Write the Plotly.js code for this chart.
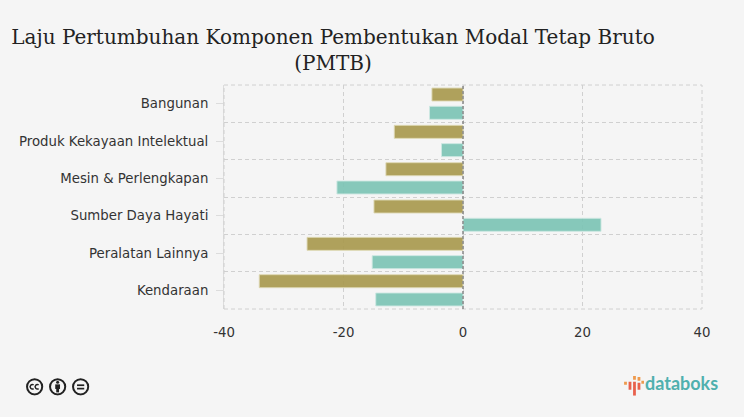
<!DOCTYPE html>
<html>
<head>
<meta charset="utf-8">
<script src="https://cdn.plot.ly/plotly-3.0.1.min.js"></script>
<style>
  html, body { margin: 0; padding: 0; background: #f5f5f5; }
</style>
</head>
<body>
<div id="chart" style="width:744px;height:417px"></div>
<script>
const categories = ["Bangunan", "Produk Kekayaan Intelektual", "Mesin & Perlengkapan", "Sumber Daya Hayati", "Peralatan Lainnya", "Kendaraan"];
const goldValues = [-5.2, -11.5, -12.9, -14.9, -26.1, -34.1];
const tealValues = [-5.6, -3.6, -21.1, 23.1, -15.2, -14.6];
const xTicks = [-40, -20, 0, 20, 40];

const ccIcons = `<svg xmlns="http://www.w3.org/2000/svg" width="64" height="18" viewBox="0 0 64 18">
<g fill="none" stroke="#222" stroke-width="2"><circle cx="9" cy="9" r="7.6"/><circle cx="32" cy="9" r="7.6"/><circle cx="55" cy="9" r="7.6"/></g>
<g fill="none" stroke="#222" stroke-width="1.5"><path d="M8 7.2a2.2 2.2 0 1 0 0 3.6"/><path d="M13 7.2a2.2 2.2 0 1 0 0 3.6"/></g>
<g fill="#222"><circle cx="32" cy="4.6" r="1.5"/><rect x="29.6" y="6.6" width="4.8" height="4.6"/><rect x="30.6" y="10" width="2.8" height="4.6"/>
<rect x="51.4" y="6.6" width="7.2" height="1.7"/><rect x="51.4" y="10" width="7.2" height="1.7"/></g></svg>`;

const logoMark = `<svg xmlns="http://www.w3.org/2000/svg" width="20" height="20" viewBox="0 0 20 20">
<g stroke-width="2.8"><path d="M1.5 6v3" stroke="#ee9a4d"/><path d="M6 6v8" stroke="#e8604c"/><path d="M10.5 0v4" stroke="#ee9a4d"/><path d="M10.5 6v14" stroke="#e8604c"/><path d="M15 1v4" stroke="#ee9a4d"/><path d="M15 7v7" stroke="#e8604c"/><path d="M18.8 5v3" stroke="#ee9a4d"/></g></svg>`;

const svgUri = (svg) => "data:image/svg+xml;charset=utf-8," + encodeURIComponent(svg);

let trace_gold = {
  name: "Seri 1",
  type: "bar",
  orientation: "h",
  y: categories,
  x: goldValues,
  marker: { color: "rgba(168,153,78,0.92)", line: { color: "rgba(222,216,180,0.9)", width: 1 } },
  hoverinfo: "x+y",
};
let trace_teal = {
  name: "Seri 2",
  type: "bar",
  orientation: "h",
  y: categories,
  x: tealValues,
  marker: { color: "rgba(124,195,180,0.92)", line: { color: "rgba(205,232,226,0.9)", width: 1 } },
  hoverinfo: "x+y",
};
// empty trace, keeps the second axis alive so its gridlines sit between categories
let trace_bands = {
  type: "bar",
  orientation: "h",
  y: categories,
  x: categories.map(() => null),
  yaxis: "y2",
  showlegend: false,
  hoverinfo: "skip",
};

let layout = {
  width: 744,
  height: 417,
  paper_bgcolor: "#f5f5f5",
  plot_bgcolor: "#f5f5f5",
  showlegend: false,
  barmode: "group",
  bargap: 0.02,
  bargroupgap: 0.29,
  margin: { l: 224, r: 42, t: 85, b: 108, pad: 0 },
  font: { family: "DejaVu Sans, sans-serif", size: 13, color: "#333" },
  title: {
    text: "Laju Pertumbuhan Komponen Pembentukan Modal Tetap Bruto<br>(PMTB)",
    font: { family: "DejaVu Serif, serif", size: 20, color: "#222" },
    x: 333 / 744,
    xanchor: "center",
    y: 0.895,
    yanchor: "top",
  },
  xaxis: {
    range: [-40, 40],
    tickvals: xTicks,
    ticktext: xTicks.map(String),
    showgrid: true,
    gridcolor: "#d0d0d0",
    griddash: "4px,3px",
    gridwidth: 1,
    zeroline: false,
    ticks: "",
    ticklen: 0,
    ticklabelstandoff: 14,
    tickfont: { size: 13.3, color: "#333" },
    showline: false,
  },
  yaxis: {
    type: "category",
    categoryorder: "array",
    categoryarray: categories,
    range: [5.5, -0.5],
    showgrid: false,
    ticks: "outside",
    ticklen: 7,
    tickcolor: "#dcdcdc",
    tickwidth: 1,
    ticklabelstandoff: 5,
    showline: true,
    linecolor: "#dcdcdc",
    linewidth: 1,
    tickfont: { size: 13.3, color: "#333" },
    zeroline: false,
  },
  yaxis2: {
    type: "category",
    categoryorder: "array",
    categoryarray: categories,
    overlaying: "y",
    range: [5.5, -0.5],
    tickson: "boundaries",
    showgrid: true,
    gridcolor: "#d0d0d0",
    griddash: "4px,3px",
    gridwidth: 1,
    ticks: "",
    showticklabels: false,
    zeroline: false,
  },
  shapes: [
    // plot frame: plotly leaves out gridlines that fall on the edges
    { type: "rect", xref: "paper", yref: "paper", x0: 0, x1: 1, y0: 0, y1: 1, line: { color: "#d0d0d0", width: 1, dash: "4px,3px" } },
    { type: "line", xref: "x", yref: "paper", x0: 0, x1: 0, y0: 0, y1: 1, line: { color: "#888888", width: 1.5, dash: "3px,2px" } },
  ],
  images: [
    { source: svgUri(ccIcons), xref: "paper", yref: "paper", x: -0.4152, y: -0.307, sizex: 0.1343, sizey: 0.0804, xanchor: "left", yanchor: "top", sizing: "contain", layer: "above" },
    { source: svgUri(logoMark), xref: "paper", yref: "paper", x: 0.8368, y: -0.2985, sizex: 0.0418, sizey: 0.0893, xanchor: "left", yanchor: "top", sizing: "contain", layer: "above" },
  ],
  annotations: [
    { text: "databoks", xref: "paper", yref: "paper", x: 0.8787, y: -0.276, xanchor: "left", yanchor: "top", showarrow: false, borderpad: 0,
      font: { family: "Lato, sans-serif", size: 18, weight: 700, color: "#4fb0ae" } },
  ],
};

Plotly.newPlot("chart", [trace_gold, trace_teal, trace_bands], layout, { displayModeBar: false });
</script>
</body>
</html>
